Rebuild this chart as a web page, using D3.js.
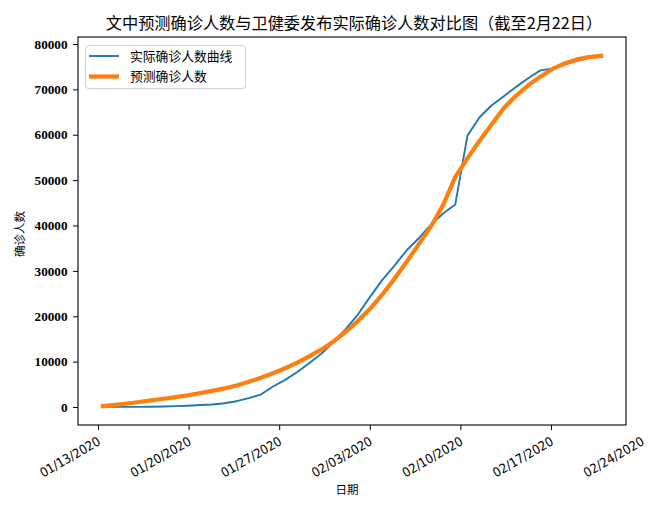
<!DOCTYPE html>
<html>
<head>
<meta charset="utf-8">
<script src="https://cdn.jsdelivr.net/npm/d3@7"></script>
<style>
  html, body { margin: 0; padding: 0; background: #fff; }
  svg { display: block; }
</style>
</head>
<body>
<svg id="chart" width="655" height="510"></svg>
<script>
// ---- data ----
const titleText = "文中预测确诊人数与卫健委发布实际确诊人数对比图（截至2月22日）";
const xLabelText = "日期";
const yLabelText = "确诊人数";
const seriesNames = ["实际确诊人数曲线", "预测确诊人数"];

// plotted time span of the daily points (as placed on the picture)
const firstPointTime = "2020-01-13T09:06:00";
const lastPointTime  = "2020-02-20T20:54:00";

const actualCases = [41, 41, 41, 45, 62, 121, 198, 291, 440, 571, 830, 1287, 1975, 2744,
  4515, 5974, 7711, 9692, 11791, 14380, 17205, 20438, 24324, 28018, 31161, 34546, 37198,
  40171, 42638, 44653, 59804, 63851, 66492, 68500, 70548, 72436, 74185, 74576, 75465,
  76288, 76936, 77150];

const predictedCases = [200, 480, 780, 1100, 1450, 1830, 2200, 2600, 3050, 3550, 4100,
  4750, 5550, 6450, 7450, 8550, 9800, 11200, 12700, 14500, 16600, 19000, 21700, 24800,
  28300, 32000, 35900, 39800, 44500, 50700, 54800, 58700, 62300, 65900, 68600, 70900,
  72800, 74500, 75700, 76600, 77100, 77400];

const xTickDates = ["2020-01-13", "2020-01-20", "2020-01-27", "2020-02-03", "2020-02-10", "2020-02-17", "2020-02-24"];
const yTickValues = [0, 10000, 20000, 30000, 40000, 50000, 60000, 70000, 80000];

// ---- layout ----
const W = 655, H = 510;
const m = { left: 78, right: 626, top: 37, bottom: 425 };

const svg = d3.select("#chart");

const parse = d3.isoParse;
const t0 = parse(firstPointTime), t1 = parse(lastPointTime);
const span = t1 - t0;
const idxToTime = d3.scaleLinear().domain([0, actualCases.length - 1]).range([+t0, +t1]);

const x = d3.scaleTime()
  .domain([new Date(+t0 - 0.05 * span), new Date(+t1 + 0.05 * span)])
  .range([m.left, m.right]);

const y = d3.scaleLinear()
  .domain([-3960, 81540])
  .range([m.bottom, m.top]);

const fmt = d3.timeFormat("%m/%d/%Y");

// x axis
const xAxis = d3.axisBottom(x)
  .tickValues(xTickDates.map(d => d3.timeParse("%Y-%m-%d")(d)))
  .tickSize(5).tickSizeOuter(0).tickFormat("");
const gx = svg.append("g").attr("transform", `translate(0,${m.bottom})`).call(xAxis);
gx.select(".domain").remove();
gx.selectAll(".tick line").attr("stroke", "#000").attr("stroke-width", 1)
  .attr("display", d => (x(d) > m.right + 0.5 ? "none" : null));
gx.selectAll(".tick").append("text")
  .attr("fill", "#000")
  .attr("font-family", "'DejaVu Sans', sans-serif")
  .attr("font-stretch", "condensed")
  .attr("font-size", 13)
  .attr("text-anchor", "end")
  .attr("transform", "translate(3,19) rotate(-30)")
  .text(d => fmt(d));

// y axis
const yAxis = d3.axisLeft(y).tickValues(yTickValues).tickSize(5).tickSizeOuter(0).tickFormat(d3.format("d"));
const gy = svg.append("g").attr("transform", `translate(${m.left},0)`).call(yAxis);
gy.select(".domain").remove();
gy.selectAll(".tick line").attr("stroke", "#000").attr("stroke-width", 1);
gy.selectAll(".tick text")
  .attr("fill", "#000")
  .attr("x", -10.5)
  .attr("font-family", "'Liberation Serif', 'Times New Roman', serif")
  .attr("font-weight", "bold")
  .attr("font-size", 13.2);

// lines
const clipId = "plotclip";
svg.append("clipPath").attr("id", clipId).append("rect")
  .attr("x", m.left).attr("y", m.top).attr("width", m.right - m.left).attr("height", m.bottom - m.top);

const line = d3.line()
  .x((d, i) => x(new Date(idxToTime(i))))
  .y(d => y(d));

svg.append("path").datum(actualCases)
  .attr("clip-path", `url(#${clipId})`)
  .attr("fill", "none").attr("stroke", "#1f77b4").attr("stroke-width", 1.9)
  .attr("stroke-linejoin", "round").attr("stroke-linecap", "square")
  .attr("d", line);

svg.append("path").datum(predictedCases)
  .attr("clip-path", `url(#${clipId})`)
  .attr("fill", "none").attr("stroke", "#ff7f0e").attr("stroke-width", 4.2)
  .attr("stroke-linejoin", "round").attr("stroke-linecap", "square")
  .attr("d", line);

// frame
svg.append("rect")
  .attr("x", m.left).attr("y", m.top).attr("width", m.right - m.left).attr("height", m.bottom - m.top)
  .attr("fill", "none").attr("stroke", "#000").attr("stroke-width", 1.1);

// title
svg.append("text")
  .attr("x", (m.left + m.right) / 2 + 2).attr("y", 29)
  .attr("text-anchor", "middle")
  .attr("font-family", "'Noto Sans CJK SC', sans-serif")
  .attr("font-size", 16.2)
  .attr("fill", "#000")
  .text(titleText);

// axis labels
svg.append("text")
  .attr("x", (m.left + m.right) / 2 - 5).attr("y", 494)
  .attr("text-anchor", "middle")
  .attr("font-family", "'Noto Sans CJK SC', sans-serif")
  .attr("font-size", 11.5)
  .attr("fill", "#000")
  .text(xLabelText);

svg.append("text")
  .attr("transform", `translate(24,${(m.top + m.bottom) / 2 + 3}) rotate(-90)`)
  .attr("text-anchor", "middle")
  .attr("font-family", "'Noto Sans CJK SC', sans-serif")
  .attr("font-size", 11.5)
  .attr("fill", "#000")
  .text(yLabelText);

// legend
const lg = svg.append("g");
lg.append("rect")
  .attr("x", 85.5).attr("y", 45.5).attr("width", 160).attr("height", 43).attr("rx", 3)
  .attr("fill", "#fff").attr("fill-opacity", 0.8).attr("stroke", "#d0d0d0").attr("stroke-width", 1);
const legendItems = [
  { name: seriesNames[0], color: "#1f77b4", w: 1.9, yy: 56 },
  { name: seriesNames[1], color: "#ff7f0e", w: 4.2, yy: 76.5 }
];
legendItems.forEach(it => {
  lg.append("line").attr("x1", 89).attr("x2", 119).attr("y1", it.yy).attr("y2", it.yy)
    .attr("stroke", it.color).attr("stroke-width", it.w).attr("stroke-linecap", "butt");
  lg.append("text").attr("x", 130).attr("y", it.yy).attr("dy", "0.36em")
    .attr("font-family", "'Noto Sans CJK SC', sans-serif")
    .attr("font-size", 12.8)
    .attr("fill", "#000").text(it.name);
});
</script>
</body>
</html>
